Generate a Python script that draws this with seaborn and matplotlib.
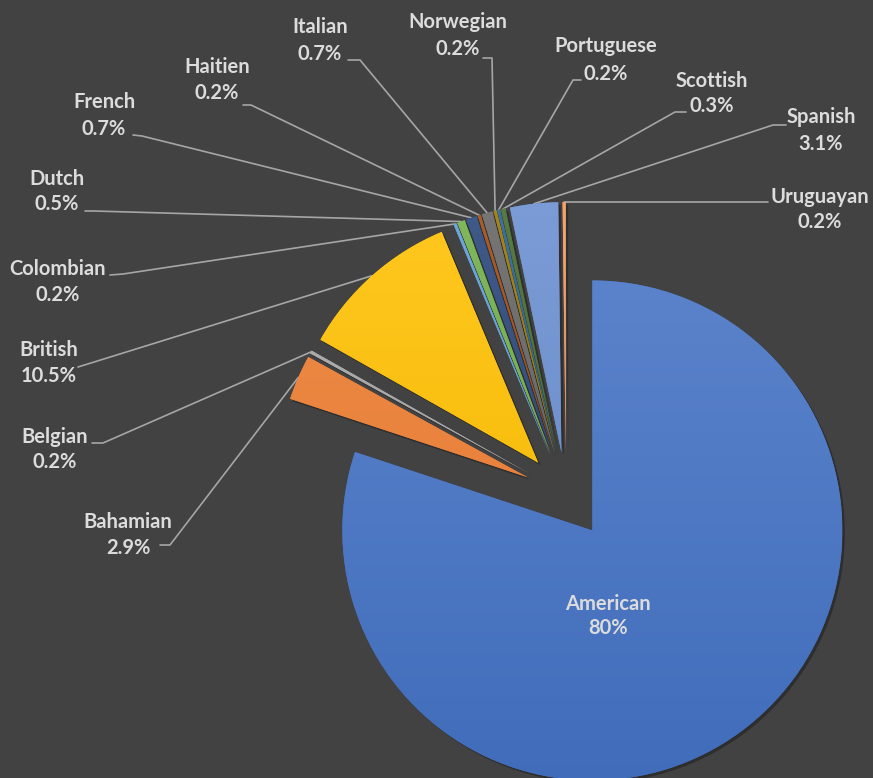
import matplotlib
matplotlib.use("Agg")
import matplotlib.pyplot as plt
import matplotlib.patches as mpatches
from matplotlib.colors import to_rgb
import seaborn as sns
import numpy as np

# ---- data ----
nationalities = ["American", "Bahamian", "Belgian", "British", "Colombian", "Dutch",
                 "French", "Haitien", "Italian", "Norwegian", "Portuguese",
                 "Scottish", "Spanish", "Uruguayan"]
shares = [80, 2.9, 0.2, 10.5, 0.2, 0.5, 0.7, 0.2, 0.7, 0.2, 0.2, 0.3, 3.1, 0.2]
share_labels = ["80%", "2.9%", "0.2%", "10.5%", "0.2%", "0.5%", "0.7%", "0.2%",
                "0.7%", "0.2%", "0.2%", "0.3%", "3.1%", "0.2%"]
slice_colors = ["#4472C4", "#ED7D31", "#A5A5A5", "#FFC000", "#5B9BD5", "#70AD47",
                "#264478", "#9E480E", "#636363", "#997300", "#255E91", "#43682B",
                "#698ED0", "#F1975A"]

# ---- layout (pixel coordinates, y measured from top) ----
W, H = 873, 778
center_px = (566, 494)
radius_px = 250
explode_px = [45] + [42] * 13

# label text: (x center, name baseline, pct baseline)
label_layout = {
    "American":   (608, 610, 634),
    "Bahamian":   (128, 528, 554),
    "Belgian":    (55, 443, 468),
    "British":    (49, 356, 382),
    "Colombian":  (58, 275, 301),
    "Dutch":      (57, 185, 210),
    "French":     (104, 108, 135),
    "Haitien":    (217, 73, 99),
    "Italian":    (320, 33, 60),
    "Norwegian":  (458, 28, 55),
    "Portuguese": (606, 52, 80),
    "Scottish":   (712, 87, 112),
    "Spanish":    (821, 123, 150),
    "Uruguayan":  (820, 203, 228),
}
# leader line start and knee points
leader_layout = {
    "Bahamian":   ((160, 545), (170, 545)),
    "Belgian":    ((92, 443), (103, 443)),
    "British":    ((78, 367), (78, 367)),
    "Colombian":  ((110, 275), (123, 274)),
    "Dutch":      ((85, 211), (94, 211)),
    "French":     ((133, 135), (142, 136)),
    "Haitien":    ((243, 105), (251, 105)),
    "Italian":    ((348, 60), (360, 60)),
    "Norwegian":  ((483, 58), (492, 58)),
    "Portuguese": ((581, 80), (573, 80)),
    "Scottish":   ((686, 112), (675, 112)),
    "Spanish":    ((786, 125), (773, 125)),
    "Uruguayan":  ((768, 202), (763, 202)),
}

sns.set_theme(style="dark")
plt.rcParams['font.family'] = ['Lato', 'DejaVu Sans']

bg = "#424242"
text_color = "#DCDCDC"
line_color = "#A6A6A6"

fig = plt.figure(figsize=(W / 100, H / 100), dpi=100, facecolor=bg)
ax = fig.add_axes([0, 0, 1, 1])
ax.set_facecolor(bg)

def py(y):
    return H - y

wedges, _ = ax.pie(shares, colors=slice_colors, explode=explode_px,
                   startangle=90, counterclock=False, radius=radius_px,
                   center=(center_px[0], py(center_px[1])), labeldistance=None,
                   wedgeprops=dict(linewidth=0, zorder=2))

# soft shadow and top-to-bottom gradient on each slice
for w, col in zip(wedges, slice_colors):
    cx, cy = w.center
    sh = mpatches.Wedge((cx + 2.5, cy - 2.5), w.r, w.theta1, w.theta2,
                        facecolor="#1e1e1e", edgecolor="none", alpha=0.55, zorder=1)
    ax.add_patch(sh)
    base = np.array(to_rgb(col))
    top = base + (1 - base) * 0.12
    bottom = base * 0.95
    t = np.linspace(0, 1, 256)[:, None, None]
    grad = top[None, None, :] * (1 - t) + bottom[None, None, :] * t
    im = ax.imshow(grad, extent=(cx - w.r, cx + w.r, cy - w.r, cy + w.r),
                   origin='upper', aspect='auto', zorder=3, interpolation='bilinear')
    im.set_clip_path(w)

ax.set_xlim(0, W)
ax.set_ylim(0, H)
ax.set_aspect('equal')
ax.axis('off')

font_kw = dict(fontsize=14.5, fontweight='bold', color=text_color, ha='center',
               va='baseline', zorder=5)

for name, pct, w in zip(nationalities, share_labels, wedges):
    x, yn, yp = label_layout[name]
    ax.text(x, py(yn), name, **font_kw)
    ax.text(x, py(yp), pct, **font_kw)
    if name in leader_layout:
        (sx, sy), (kx, ky) = leader_layout[name]
        mid = np.deg2rad((w.theta1 + w.theta2) / 2)
        ex = w.center[0] + w.r * np.cos(mid)
        ey = w.center[1] + w.r * np.sin(mid)
        ax.plot([sx, kx, ex], [py(sy), py(ky), ey], color=line_color, lw=1.2,
                solid_joinstyle='round', zorder=0.5)

fig.savefig("out.png", dpi=100, facecolor=bg)
